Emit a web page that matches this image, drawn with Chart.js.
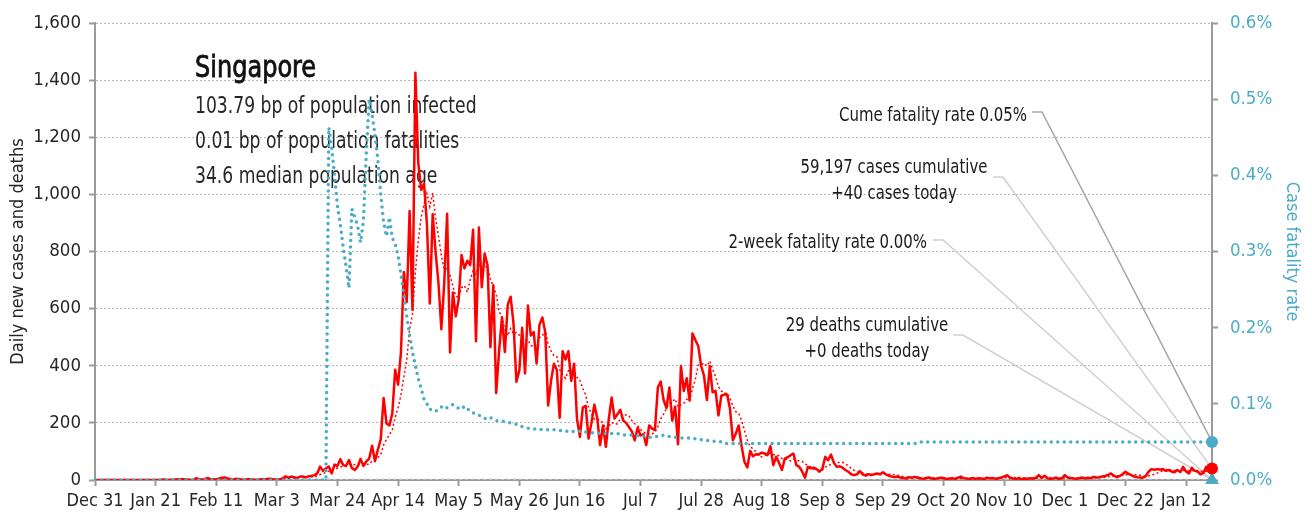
<!DOCTYPE html>
<html lang="en">
<head>
    <meta charset="UTF-8">
    <title>Singapore - daily cases and fatality rate</title>
    <script src="https://cdn.jsdelivr.net/npm/chart.js"></script>
    <style>
        body { margin: 0; background: #fff; }
        canvas { display: block; }
    </style>
</head>
<body>
    <canvas id="covidChart" width="1312" height="520"></canvas>

    <script>
        // x axis: one category per day from Dec 31, labelled every 21 days
        const tickLabels = ['Dec 31', 'Jan 21', 'Feb 11', 'Mar 3', 'Mar 24', 'Apr 14', 'May 5', 'May 26', 'Jun 16',
            'Jul 7', 'Jul 28', 'Aug 18', 'Sep 8', 'Sep 29', 'Oct 20', 'Nov 10', 'Dec 1', 'Dec 22', 'Jan 12'];
        const tickEvery = 21;

        // daily new cases, one row per week
        const dailyCases = [
            0,0,0,0,0,0,0, 0,0,0,0,0,0,0, 0,0,0,0,0,0,0,
            0,0,1,2,0,1,1, 2,3,3,3,2,0,0, 6,4,2,3,7,3,3, 2,5,8,9,5,3,2,
            4,3,1,1,3,3,1, 1,2,3,3,4,4,2, 2,2,5,13,8,12,10, 6,12,12,9,13,14,17,
            23,47,32,40,47,23,54, 49,73,52,49,70,42,35, 47,74,49,65,75,120,66,
            106,142,287,198,191,233,386, 334,447,728,623,942,596,1426,
            1111,1016,1037,897,618,931,799, 690,528,690,932,447,657,573,
            632,788,741,768,753,876,486, 884,675,793,752,465,682,305,
            451,570,448,614,642,548,344, 383,533,373,611,506,518,408,
            544,569,517,261,347,407,386, 218,451,422,451,347,407,214,
            151,254,260,145,200,264,218, 122,191,116,213,289,215,230,
            246,208,200,185,170,139,183, 156,160,122,191,180,175,324,
            345,280,252,324,208,257,125, 399,312,356,278,513,490,469,
            400,365,280,399,307,312,226, 295,299,299,250,139,162,191,
            120,64,44,102,83,90,89, 96,93,87,119,52,81,60,
            35,75,80,87,92,52,46, 30,8,46,41,43,38,29,
            39,81,69,89,60,46,48, 43,35,29,20,17,20,31,
            20,15,20,17,20,23,20, 27,20,15,12,10,12,9,
            7,5,10,8,11,9,6, 4,7,9,5,4,6,8, 7,3,5,6,4,8,12, 6,5,3,7,4,6,5,
            3,8,6,7,4,6,9, 12,17,8,5,4,6,3, 5,4,6,5,8,17,7, 15,6,4,5,8,4,6,
            17,9,7,5,4,6,9, 5,8,6,11,9,10,12, 14,18,23,15,10,14,20,
            29,22,17,12,10,9,8, 13,29,38,36,38,37,38, 32,35,30,27,35,28,46,
            30,23,43,32,30,20,25, 46,34,40
        ];

        // 7-day average of new cases
        const casesAvg = [
            0,0,0,0,0,0,0, 0,0,0,0,0,0,0, 0,0,0,0,0,0,0,
            0,0,0,0,0,1,1, 1,1,2,2,2,2,2, 2,3,2,2,3,4,4, 3,4,4,5,5,5,5,
            5,5,4,3,2,2,2, 2,2,2,2,2,3,3, 3,3,3,5,5,6,7, 8,9,10,10,11,11,12,
            14,19,22,27,31,33,38, 42,45,48,50,53,56,53, 53,53,52,55,55,66,71,
            79,89,123,142,159,175,220, 253,297,360,420,528,579,728,
            839,920,964,1004,957,1005,916, 855,786,736,741,717,678,645,
            637,674,681,658,702,733,721, 757,740,748,746,704,677,651,
            589,574,525,505,530,511,517, 507,502,491,491,471,467,476,
            499,504,525,475,452,436,433, 386,370,356,383,383,383,359,
            349,321,298,254,233,213,213, 209,200,179,189,202,195,197,
            214,217,229,225,208,197,190, 177,170,159,160,162,167,187,
            214,231,250,269,273,284,256, 264,268,283,276,320,353,402,
            403,410,399,417,387,362,327, 312,303,305,284,260,239,234,
            209,175,139,117,109,99,85, 81,85,91,94,89,88,84,
            75,73,72,67,73,69,67, 66,56,52,45,38,36,34,
            35,45,49,55,58,59,62, 62,56,50,40,34,30,28,
            25,22,20,20,20,21,19, 20,21,20,20,18,17,15,
            12,10,9,9,9,8,8, 8,8,8,7,6,6,6, 7,6,5,6,6,6,6, 6,7,6,6,6,6,5,
            5,5,6,6,6,6,6, 7,9,9,9,9,9,8, 7,5,5,5,5,7,7, 9,9,9,9,9,7,7,
            7,8,8,8,7,8,8, 6,6,6,7,8,8,9, 10,11,14,14,15,15,16,
            18,19,18,18,18,17,15, 13,14,17,20,24,28,33, 35,36,35,34,33,32,33,
            33,31,33,34,33,32,29, 31,33,32
        ];

        // cumulative case fatality rate, percent
        const fatalityRate = [
            0,0,0,0,0,0,0,0,0,0, 0,0,0,0,0,0,0,0,0,0, 0,0,0,0,0,0,0,0,0,0,
            0,0,0,0,0,0,0,0,0,0, 0,0,0,0,0,0,0,0,0,0, 0,0,0,0,0,0,0,0,0,0,
            0,0,0,0,0,0,0,0,0,0, 0,0,0,0,0,0,0,0,0,0, 0,
            0.463,0.436,0.40,0.36,0.335,0.305,0.28,0.252,0.356,0.345,
            0.334,0.312,0.34,0.43,0.50,0.48,0.453,0.42,0.375,0.338,
            0.32,0.345,0.318,0.31,0.295,0.27,0.243,0.215,0.19,0.168,
            0.15,0.133,0.12,0.106,0.10,0.093,0.091,0.09,0.094,0.096,
            0.093,0.095,0.097,0.099,0.097,0.094,0.093,0.097,0.094,0.09,
            0.088,0.087,0.085,0.084,0.081,0.08,0.082,0.08,0.078,0.077,
            0.077,0.077,0.076,0.075,0.074,0.073,0.072,0.07,0.069,0.068,
            0.067,0.067,0.067,0.067,0.066,0.066,0.066,0.066,0.066,0.066,
            0.065,0.065,0.064,0.064,0.063,0.064,0.065,0.064,0.063,0.063,
            0.062,0.062,0.062,0.062,0.061,0.061,0.061,0.061,0.061,0.061,
            0.061,0.06,0.059,0.059,0.059,0.059,0.058,0.058,0.058,0.058,
            0.057,0.056,0.056,0.057,0.057,0.058,0.059,0.058,0.057,0.057,
            0.056,0.056,0.055,0.055,0.055,0.055,0.055,0.054,0.053,0.053,
            0.053,0.052,0.052,0.051,0.051,0.051,0.05,
            0.048,0.048,0.048,0.048,0.048,0.048,0.048,0.048,0.048,0.048,
            0.048,0.048,0.048,0.048,0.048,0.048,0.048,0.048,0.048,0.048,
            0.048,0.048,0.048,0.048,0.048,0.048,0.048,0.048,0.048,0.048,
            0.048,0.048,0.048,0.048,0.048,0.048,0.048,0.048,0.048,0.048,
            0.048,0.048,0.048,0.048,0.048,0.048,0.048,0.048,0.048,0.048,
            0.048,0.048,0.048,0.048,0.048,0.048,0.048,0.048,0.048,0.048,
            0.048,0.048,0.048,0.048,0.048,0.048,0.048,0.048,
            0.05,0.05,0.05,0.05,0.05,0.05,0.05,0.05,0.05,0.05,
            0.05,0.05,0.05,0.05,0.05,0.05,0.05,0.05,0.05,0.05,
            0.05,0.05,0.05,0.05,0.05,0.05,0.05,0.05,0.05,0.05,
            0.05,0.05,0.05,0.05,0.05,0.05,0.05,0.05,0.05,0.05,
            0.05,0.05,0.05,0.05,0.05,0.05,0.05,0.05,0.05,0.05,
            0.05,0.05,0.05,0.05,0.05,0.05,0.05,0.05,0.05,0.05,
            0.05,0.05,0.05,0.05,0.05,0.05,0.05,0.05,0.05,0.05,
            0.05,0.05,0.05,0.05,0.05,0.05,0.05,0.05,0.05,0.05,
            0.05,0.05,0.05,0.05,0.05,0.05,0.05,0.05,0.05,0.05,
            0.05,0.05,0.05,0.05,0.05,0.05,0.05,0.05,0.05,0.05,
            0.05,0.05
        ];

        // days on which deaths were reported, and how many
        const deathDays   = [81, 89, 93, 94, 95, 102, 104, 107, 110, 113, 119, 120, 122, 123, 124,
                             128, 130, 137, 145, 148, 153, 166, 167, 194, 196, 197, 207, 286];
        const deathCounts = [2, 1, 1, 1, 1, 1, 1, 1, 1, 1, 1, 1, 1, 1, 1,
                             1, 1, 1, 1, 1, 1, 1, 1, 1, 1, 1, 1, 1];

        const twoWeekRate = 0.00;
        const cumCases = 59197;

        const headline = 'Singapore';
        const facts = ['103.79 bp of population infected', '0.01 bp of population fatalities', '34.6 median population age'];

        const RED = '#ff0000';
        const CYAN = '#4bacc6';
        const AXIS = '#9a9a9a';
        const FONT = "'DejaVu Sans Condensed', 'Liberation Sans Narrow', sans-serif";

        const days = dailyCases.map((v, i) => i);
        const last = days.length - 1;
        const dailyDeaths = days.map(() => 0);
        deathDays.forEach((d, i) => { dailyDeaths[d] += deathCounts[i]; });
        const cumDeaths = deathCounts.reduce((a, b) => a + b, 0);

        Chart.defaults.font.family = FONT;
        Chart.defaults.color = '#262626';

        // narrow text: squeeze horizontally so the condensed face reads like a narrow one
        function squeezedText(ctx, text, x, y, align, sx) {
            ctx.save();
            ctx.translate(x, y);
            ctx.scale(sx, 1);
            ctx.textAlign = align;
            ctx.fillText(text, 0, 0);
            ctx.restore();
        }

        // headline, facts and the leader-line notes, drawn under the series
        const notesPlugin = {
            id: 'notes',
            beforeDatasetsDraw(chart) {
                const { ctx, scales: { x, y, y1 } } = chart;
                const endX = x.getPixelForValue(last);

                ctx.save();
                ctx.textBaseline = 'alphabetic';
                ctx.fillStyle = '#111';
                ctx.strokeStyle = '#111';
                ctx.font = '30px ' + FONT;
                ctx.save();
                ctx.translate(195, 77);
                ctx.scale(0.89, 1);
                ctx.textAlign = 'left';
                ctx.lineWidth = 0.8;
                ctx.fillText(headline, 0, 0);
                ctx.strokeText(headline, 0, 0);
                ctx.restore();

                ctx.font = '23px ' + FONT;
                ctx.fillStyle = '#262626';
                squeezedText(ctx, facts[0], 195, 113, 'left', 0.83);
                squeezedText(ctx, facts[1], 195, 148, 'left', 0.83);
                squeezedText(ctx, facts[2], 195, 183, 'left', 0.83);

                const notes = [
                    { lines: ['Cume fatality rate ' + fatalityRate[last].toFixed(2) + '%'],
                      align: 'right', tx: 1027, ty: [121], lx: 1032, ly: 112,
                      to: [endX, y1.getPixelForValue(fatalityRate[last])], color: '#a6a6a6' },
                    { lines: [cumCases.toLocaleString('en-US') + ' cases cumulative', '+' + dailyCases[last] + ' cases today'],
                      align: 'center', tx: 894, ty: [173, 199], lx: 993, ly: 177,
                      to: [endX, y.getPixelForValue(dailyCases[last])], color: '#d0d0d0' },
                    { lines: ['2-week fatality rate ' + twoWeekRate.toFixed(2) + '%'],
                      align: 'right', tx: 927, ty: [248], lx: 933, ly: 240,
                      to: [endX, y1.getPixelForValue(twoWeekRate)], color: '#d0d0d0' },
                    { lines: [cumDeaths + ' deaths cumulative', '+' + dailyDeaths[last] + ' deaths today'],
                      align: 'center', tx: 867, ty: [331, 357], lx: 953, ly: 335,
                      to: [endX, y.getPixelForValue(dailyDeaths[last])], color: '#d0d0d0' }
                ];

                ctx.font = '20px ' + FONT;
                ctx.fillStyle = '#1a1a1a';
                notes.forEach(n => {
                    n.lines.forEach((t, i) => squeezedText(ctx, t, n.tx, n.ty[i], n.align, 0.83));
                    ctx.strokeStyle = n.color;
                    ctx.lineWidth = 1.5;
                    ctx.beginPath();
                    ctx.moveTo(n.lx, n.ly);
                    ctx.lineTo(n.lx + 10, n.ly);
                    ctx.lineTo(n.to[0], n.to[1]);
                    ctx.stroke();
                });
                ctx.restore();
            }
        };

        const ctx = document.getElementById('covidChart').getContext('2d');
        new Chart(ctx, {
            type: 'line',
            data: {
                labels: days,
                datasets: [
                    {
                        label: 'Case fatality rate',
                        data: fatalityRate,
                        yAxisID: 'y1',
                        borderColor: CYAN,
                        borderWidth: 3.5,
                        borderDash: [0, 6.5],
                        borderCapStyle: 'round',
                        pointRadius: 0,
                        order: 1
                    },
                    {
                        label: 'Daily new cases',
                        data: dailyCases,
                        yAxisID: 'y',
                        borderColor: RED,
                        borderWidth: 2.5,
                        borderJoinStyle: 'round',
                        pointRadius: 0,
                        order: 2
                    },
                    {
                        label: '7-day average',
                        data: casesAvg,
                        yAxisID: 'y',
                        borderColor: RED,
                        borderWidth: 1.5,
                        borderDash: [2, 2.5],
                        pointRadius: 0,
                        order: 3
                    },
                    {
                        label: 'Daily deaths',
                        data: dailyDeaths,
                        yAxisID: 'y',
                        borderColor: '#c4c4c4',
                        borderWidth: 3,
                        borderDash: [0, 6],
                        borderCapStyle: 'round',
                        pointRadius: 0,
                        order: 4
                    },
                    {
                        label: 'Latest fatality rate',
                        data: [{ x: last, y: fatalityRate[last] }],
                        yAxisID: 'y1',
                        showLine: false,
                        pointRadius: 6,
                        pointBackgroundColor: CYAN,
                        pointBorderWidth: 0,
                        clip: false,
                        order: 0
                    },
                    {
                        label: 'Latest cases',
                        data: [{ x: last, y: dailyCases[last] }],
                        yAxisID: 'y',
                        showLine: false,
                        pointRadius: 6,
                        pointBackgroundColor: RED,
                        pointBorderWidth: 0,
                        clip: false,
                        order: 0
                    },
                    {
                        label: '2-week fatality rate',
                        data: [{ x: last, y: twoWeekRate }],
                        yAxisID: 'y1',
                        showLine: false,
                        pointStyle: 'triangle',
                        pointRadius: 8,
                        pointBackgroundColor: CYAN,
                        pointBorderWidth: 0,
                        clip: false,
                        order: 0
                    }
                ]
            },
            options: {
                responsive: false,
                animation: false,
                devicePixelRatio: 1,
                layout: { padding: { top: 19, left: 0, right: 0, bottom: 0 } },
                plugins: {
                    legend: { display: false },
                    tooltip: { enabled: false }
                },
                scales: {
                    x: {
                        type: 'category',
                        afterFit: s => { s.height = 40; },
                        grid: {
                            drawOnChartArea: false,
                            tickLength: 6,
                            tickWidth: 2,
                            tickColor: c => (c.index % tickEvery === 0 ? AXIS : 'rgba(0,0,0,0)')
                        },
                        border: { color: AXIS, width: 2 },
                        ticks: {
                            autoSkip: false,
                            maxRotation: 0,
                            padding: 5,
                            font: { size: 18 },
                            callback: (v, i) => (i % tickEvery === 0 ? tickLabels[i / tickEvery] : '')
                        }
                    },
                    y: {
                        position: 'left',
                        min: 0,
                        max: 1600,
                        afterFit: s => { s.width = 95; },
                        grid: {
                            color: '#b5b5b5',
                            lineWidth: 1,
                            tickLength: 6,
                            tickWidth: 2,
                            tickColor: AXIS
                        },
                        border: { color: AXIS, width: 2, dash: [2, 2] },
                        ticks: {
                            stepSize: 200,
                            padding: 8,
                            font: { size: 18.5 },
                            callback: v => v.toLocaleString('en-US')
                        },
                        title: {
                            display: true,
                            text: 'Daily new cases and deaths',
                            font: { size: 18 },
                            padding: { top: 8, bottom: 0 }
                        }
                    },
                    y1: {
                        position: 'right',
                        min: 0,
                        max: 0.6,
                        afterFit: s => { s.width = 100; },
                        grid: {
                            drawOnChartArea: false,
                            tickLength: 6,
                            tickWidth: 2,
                            tickColor: AXIS
                        },
                        border: { color: AXIS, width: 2 },
                        ticks: {
                            stepSize: 0.1,
                            padding: 12,
                            color: CYAN,
                            font: { size: 18.5 },
                            callback: v => v.toFixed(1) + '%'
                        },
                        title: {
                            display: true,
                            text: 'Case fatality rate',
                            color: CYAN,
                            font: { size: 18 },
                            padding: { top: 10, bottom: 0 }
                        }
                    }
                }
            },
            plugins: [notesPlugin]
        });
    </script>
</body>
</html>
